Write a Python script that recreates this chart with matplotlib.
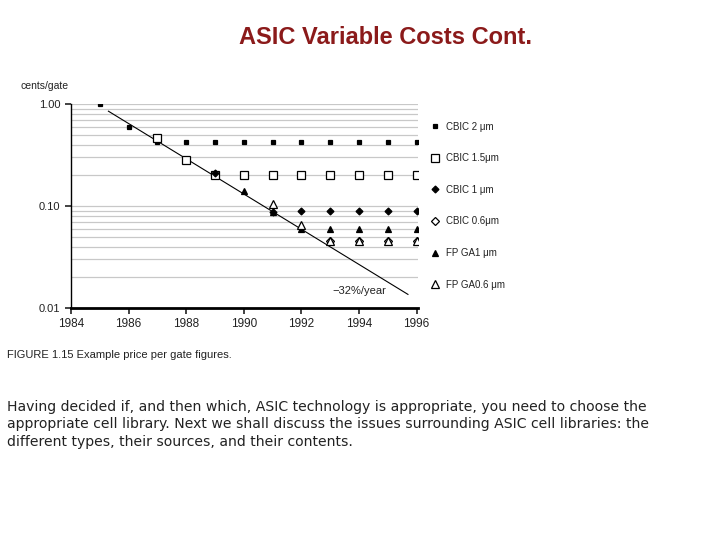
import matplotlib
matplotlib.use("Agg")
import matplotlib.pyplot as plt
from matplotlib.ticker import LogLocator, NullFormatter, FixedLocator, FixedFormatter

# ── Data ───────────────────────────────────────────────────────────────────────
CBIC2_YEARS = [1985, 1986, 1987, 1988, 1989, 1990, 1991, 1992, 1993, 1994, 1995, 1996]
CBIC2_VALUES = [1.0, 0.6, 0.42, 0.42, 0.42, 0.42, 0.42, 0.42, 0.42, 0.42, 0.42, 0.42]

CBIC15_YEARS = [1987, 1988, 1989, 1990, 1991, 1992, 1993, 1994, 1995, 1996]
CBIC15_VALUES = [0.46, 0.28, 0.2, 0.2, 0.2, 0.2, 0.2, 0.2, 0.2, 0.2]

CBIC1_YEARS = [1989, 1991, 1992, 1993, 1994, 1995, 1996]
CBIC1_VALUES = [0.21, 0.088, 0.09, 0.09, 0.09, 0.09, 0.09]

CBIC06_YEARS = [1993, 1994, 1995, 1996]
CBIC06_VALUES = [0.045, 0.045, 0.045, 0.045]

FPGA1_YEARS = [1990, 1991, 1992, 1993, 1994, 1995, 1996]
FPGA1_VALUES = [0.14, 0.087, 0.06, 0.06, 0.06, 0.06, 0.06]

FPGA06_YEARS = [1991, 1992, 1993, 1994, 1995, 1996]
FPGA06_VALUES = [0.105, 0.065, 0.045, 0.045, 0.045, 0.045]

TREND_YEARS = [1985.3, 1995.7]
TREND_VALUES = [0.85, 0.0136]

X_TICKS = [1984, 1986, 1988, 1990, 1992, 1994, 1996]
Y_TICKS = [0.01, 0.1, 1.0]
Y_TICK_LABELS = ["0.01", "0.10", "1.00"]

TITLE = "ASIC Variable Costs Cont."
CAPTION = "FIGURE 1.15 Example price per gate figures."
PARAGRAPH = ("Having decided if, and then which, ASIC technology is appropriate, you need to choose the\n"
             "appropriate cell library. Next we shall discuss the issues surrounding ASIC cell libraries: the\n"
             "different types, their sources, and their contents.")

# ── Style ──────────────────────────────────────────────────────────────────────
TITLE_COLOR = "#8b1a1a"
TEXT = "#222222"
GRID = "#c8c8c8"
plt.rcParams["font.family"] = ["Liberation Sans", "DejaVu Sans"]

fig = plt.figure(figsize=(7.2, 5.4), dpi=100)
ax = fig.add_axes([0.0986, 0.4296, 0.4820, 0.3778])

series = [
    (CBIC2_YEARS, CBIC2_VALUES, "s", 3, "black", "CBIC 2 \u03bcm"),
    (CBIC15_YEARS, CBIC15_VALUES, "s", 5.5, "white", "CBIC 1.5\u03bcm"),
    (CBIC1_YEARS, CBIC1_VALUES, "D", 3.5, "black", "CBIC 1 \u03bcm"),
    (CBIC06_YEARS, CBIC06_VALUES, "D", 4.5, "white", "CBIC 0.6\u03bcm"),
    (FPGA1_YEARS, FPGA1_VALUES, "^", 4.5, "black", "FP GA1 \u03bcm"),
    (FPGA06_YEARS, FPGA06_VALUES, "^", 5.5, "white", "FP GA0.6 \u03bcm"),
]

ax.plot(TREND_YEARS, TREND_VALUES, color="black", linewidth=0.8, zorder=2)

handles = []
for xs, ys, m, ms, fc, label in series:
    h, = ax.plot(xs, ys, linestyle="none", marker=m, markersize=ms,
                 markerfacecolor=fc, markeredgecolor="black", markeredgewidth=0.9,
                 label=label, zorder=3)
    handles.append(h)

ax.text(1994.0, 0.0146, "\u221232%/year", ha="center", va="center",
        fontsize=8, color=TEXT)

ax.set_yscale("log")
ax.set_ylim(0.01, 1.0)
ax.set_xlim(1984, 1996.05)
ax.yaxis.set_major_locator(FixedLocator(Y_TICKS))
ax.yaxis.set_major_formatter(FixedFormatter(Y_TICK_LABELS))
ax.yaxis.set_minor_locator(LogLocator(base=10, subs=range(2, 10)))
ax.yaxis.set_minor_formatter(NullFormatter())
ax.set_xticks(X_TICKS)
ax.set_xticklabels([str(x) for x in X_TICKS])

ax.yaxis.grid(True, which="both", color=GRID, linewidth=0.9, zorder=0)
ax.set_axisbelow(True)
ax.tick_params(axis="y", which="minor", length=0)
ax.tick_params(axis="both", which="major", colors=TEXT,
               length=4, width=1.2, direction="out")
ax.tick_params(axis="x", labelsize=8.5)
ax.tick_params(axis="y", labelsize=8)

for s in ("top", "right"):
    ax.spines[s].set_visible(False)
ax.spines["left"].set_linewidth(1.0)
ax.spines["bottom"].set_linewidth(2.0)

leg = fig.legend(handles=handles, loc="upper left", bbox_to_anchor=(0.585, 0.791),
                 frameon=False, fontsize=7, labelspacing=2.22, handlelength=1.0,
                 handletextpad=0.6, labelcolor=TEXT)

fig.text(0.028, 0.835, "cents/gate", fontsize=7.5, color=TEXT)
fig.text(0.535, 0.931, TITLE, ha="center", va="center", fontsize=17,
         fontweight="bold", color=TITLE_COLOR)
fig.text(0.01, 0.343, CAPTION, fontsize=8, color=TEXT, va="center")
fig.text(0.01, 0.259, PARAGRAPH, fontsize=10.1, color=TEXT, va="top",
         linespacing=1.3, family=["DejaVu Sans"])

fig.savefig("out.png", dpi=100, facecolor="white")
